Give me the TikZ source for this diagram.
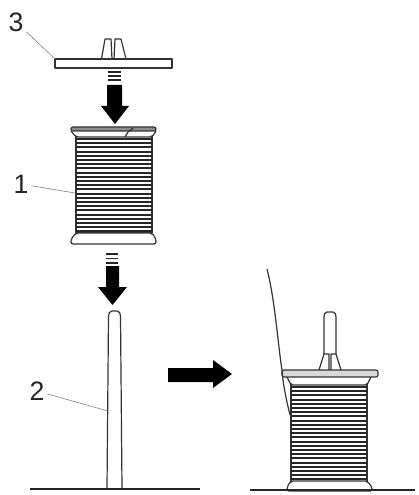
\documentclass[tikz,border=0pt]{standalone}
\usepackage{fontspec}
\setmainfont{Liberation Sans}
\usetikzlibrary{positioning,calc}
\tikzset{
    part/.style={line width=0.9pt, draw=black!80, fill=white, line join=round},
    leader/.style={line width=0.45pt, draw=black!50},
    num/.style={font=\fontsize{20}{20}\selectfont, text=black!85, inner sep=2pt},
    thread/.style={line width=1.4pt, draw=black!85},
    bigarrow/.style={fill=black, draw=none},
    tick/.style={line width=1.3pt, draw=black!85},
    floor/.style={line width=0.9pt, draw=black!85}
}
\begin{document}
\begin{tikzpicture}[x=0.75pt, y=-0.75pt]
    \useasboundingbox (0,0) rectangle (418,495);

    % Cap
    \draw[part] (101.5,59) -- (105,39) -- (111,39) -- (112,59);
    \draw[part] (114,59) -- (115,39) -- (121,39) -- (126,59);
    \draw[part] (55,59) rectangle (172,68);

    % Upper arrow
    \foreach \y in {72,76,80} \draw[tick] (108,\y) -- (121,\y);
    \fill[bigarrow] (107,85) -- (122,85) -- (122,106) -- (129,106) -- (115,124) -- (101,106) -- (107,106) -- cycle;

    % Spool
    \draw[part] (76,136) -- (76,233) -- (152,233) -- (152,136) -- cycle;
    \draw[part, rounded corners=1.5pt] (71,131) -- (76,137) -- (152,137) -- (156,131);
    \draw[part, fill=black!45, rounded corners=1.5pt] (71,127) rectangle (156,131);
    \draw[part, rounded corners=1.5pt] (76,233) -- (152,233) -- (156,239) -- (156,244) -- (71,244) -- (71,239) -- cycle;
    \foreach \i in {0,...,22} \draw[thread] (76,139+4.2*\i) -- (152,139+4.2*\i);
    \draw[part, fill=none] (125,137) -- (128,132) -- (133,128);

    % Lower arrow
    \foreach \y in {254,258.5,263} \draw[tick] (106,\y) -- (118,\y);
    \fill[bigarrow] (106,266) -- (119,266) -- (119,287) -- (127,287) -- (112.5,305) -- (98,287) -- (106,287) -- cycle;

    % Pin
    \draw[part] (107,488) -- (108.5,316) to[out=90, in=180] (112,311) -- (117,311) to[out=0, in=90] (120.5,316) -- (122,488);
    \draw[floor] (30,489) -- (200,489);

    % Arrow to the mounted spool
    \fill[bigarrow] (168,368) -- (213,368) -- (213,360) -- (232,374) -- (213,388) -- (213,382) -- (168,382) -- cycle;

    % Mounted spool
    \draw[part] (324,354) -- (324,317) to[out=90, in=180] (327,312) -- (333,312) to[out=0, in=90] (336,317) -- (336,354);
    \draw[part] (319,370) -- (324,354) -- (329,354) -- (329,370);
    \draw[part] (331,370) -- (331,354) -- (336,354) -- (341,370);
    \draw[part] (291,377) rectangle (367,483);
    \draw[part, rounded corners=1.5pt] (287,377) -- (291,385) -- (367,385) -- (371,377);
    \draw[part, fill=black!15, rounded corners=1.5pt] (282,370) rectangle (378,377);
    \draw[part, rounded corners=1.5pt] (291,481) -- (367,481) -- (372,487) -- (372,491) -- (287,491) -- (287,487) -- cycle;
    \foreach \i in {0,...,22} \draw[thread] (291,387+4.2*\i) -- (367,387+4.2*\i);
    \draw[part, fill=none] (267,269) .. controls (275,300) and (278,345) .. (282,370) .. controls (283,385) and (287,403) .. (290,415);
    \draw[floor] (250,490) -- (415,490);

    % Labels
    \node[num] (lab3) at (16,22) {3};
    \node[num] (lab1) at (21,184) {1};
    \node[num] (lab2) at (37,391) {2};
    \coordinate (cap3) at (55,59);
    \coordinate (spool1) at (75,193);
    \coordinate (pin2) at (108,411);
    \draw[leader] (lab3) -- (cap3);
    \draw[leader] (lab1) -- (spool1);
    \draw[leader] (lab2) -- (pin2);
\end{tikzpicture}
\end{document}
